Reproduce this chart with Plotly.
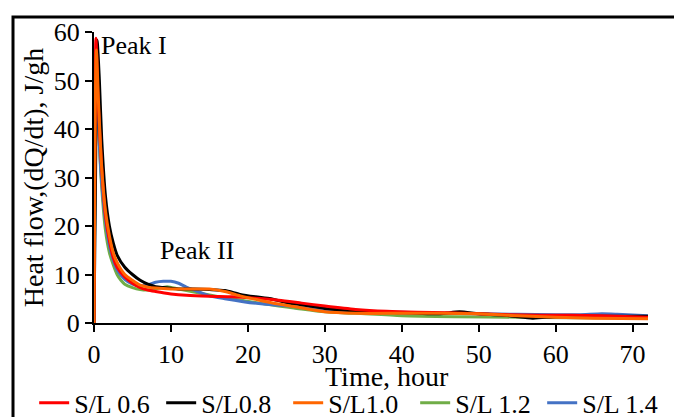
import plotly.graph_objects as go

# ---- data ----
t_red = [0, 0.25, 0.5, 1, 1.5, 2, 2.5, 3, 4, 5, 6, 7, 8, 10, 12, 15, 18, 21, 24, 27, 30, 34, 38, 42, 46, 50, 54, 58, 62, 66, 70, 72]
v_red = [0, 58.7, 47, 32, 22, 17, 13.5, 11.5, 9.5, 8.2, 7.3, 6.8, 6.5, 6.0, 5.7, 5.5, 5.4, 5.1, 4.7, 4.1, 3.5, 2.8, 2.4, 2.2, 2.1, 1.9, 1.7, 1.6, 1.6, 1.5, 1.3, 1.2]

t_blk = [0, 0.2, 0.4, 0.7, 1, 1.5, 2, 2.5, 3, 4, 5, 6, 7, 8, 9, 11, 13, 15, 17, 19, 21, 23, 25, 28, 30, 34, 38, 42, 45, 47.5, 50, 54, 57, 60, 64, 68, 72]
v_blk = [0, 30, 58.3, 50, 38, 26, 20, 16.5, 14, 11.5, 10, 8.8, 8, 7.5, 7.3, 7.0, 7.0, 6.9, 6.7, 5.9, 5.4, 5.0, 4.2, 3.5, 3.0, 2.5, 2.2, 2.0, 1.9, 2.3, 1.9, 1.5, 1.0, 1.3, 1.4, 1.4, 1.4]

t_org = [0, 0.3, 0.6, 1, 1.5, 2, 2.5, 3, 4, 5, 6, 7, 8, 10, 12, 15, 17, 19, 21.5, 24, 26, 30, 34, 40, 45, 50, 55, 60, 65, 72]
v_org = [0, 56.3, 45, 32, 23, 18, 14.5, 12.5, 10, 8.8, 7.8, 7.4, 7.2, 7.0, 7.0, 7.0, 6.5, 5.6, 4.7, 3.9, 3.4, 2.3, 2.0, 2.0, 2.0, 1.9, 1.5, 1.2, 1.0, 0.9]

t_grn = [0, 0.3, 0.6, 1, 1.5, 2, 2.5, 3, 3.5, 4, 5, 6, 7, 8, 9.5, 11, 13, 15, 17, 19.5, 21.5, 24, 26, 30, 34, 40, 47, 55, 62, 72]
v_grn = [0, 52, 40, 28, 19, 14.5, 12, 10, 8.8, 8, 7.3, 6.9, 6.8, 7.0, 7.5, 7.0, 6.4, 5.8, 5.2, 4.6, 4.1, 3.5, 3.1, 2.3, 2.0, 1.5, 1.3, 1.2, 1.1, 1.0]

t_blu = [0, 0.3, 0.6, 1, 1.5, 2, 2.5, 3, 4, 5, 6, 7, 8, 9, 10, 11, 12, 13.5, 15, 17, 19.4, 22, 26, 30, 35, 40, 45, 50, 55, 60, 63, 66, 68, 72]
v_blu = [0, 53, 40, 29, 21, 16, 13, 11, 9, 8, 7.6, 7.9, 8.4, 8.6, 8.6, 8.2, 7.4, 6.5, 5.6, 5.0, 4.4, 3.9, 3.4, 2.8, 2.3, 2.2, 2.0, 1.9, 1.8, 1.7, 1.7, 1.9, 1.8, 1.5]

names = ["S/L 0.6", "S/L0.8", "S/L1.0", "S/L 1.2", "S/L 1.4"]
colors = ["#FF0000", "#000000", "#FF6600", "#70AD47", "#4472C4"]

x_ticks = [0, 10, 20, 30, 40, 50, 60, 70]
y_ticks = [0, 10, 20, 30, 40, 50, 60]

FONT = "Liberation Serif, Times New Roman, serif"

fig = go.Figure()
series = [(t_red, v_red), (t_blk, v_blk), (t_org, v_org), (t_grn, v_grn), (t_blu, v_blu)]
draw_order = [3, 4, 1, 0, 2]  # green, blue, black, red, orange (orange on top)
for i in draw_order:
    t, v = series[i]
    fig.add_trace(go.Scatter(
        x=t, y=v, mode="lines", name=names[i], legendrank=i + 1,
        line=dict(color=colors[i], width=3, shape="spline", smoothing=0.7),
    ))

fig.update_layout(
    width=674, height=417,
    margin=dict(l=94, r=26, t=32, b=94, autoexpand=False),
    paper_bgcolor="white", plot_bgcolor="white",
    font=dict(family=FONT, size=26, color="black"),
    showlegend=True,
    legend=dict(orientation="h", x=-0.108, xanchor="left", y=-0.194, yanchor="top",
                font=dict(size=26), itemwidth=30, tracegroupgap=0,
                entrywidth=82, entrywidthmode="pixels", traceorder="normal",
                bgcolor="rgba(0,0,0,0)"),
    xaxis=dict(range=[0, 72], tickvals=x_ticks, showgrid=False, zeroline=False,
               showline=True, linecolor="black", linewidth=1.5, automargin=False,
               ticks="outside", ticklen=7, tickwidth=1.5, tickcolor="black"),
    yaxis=dict(range=[0, 60], tickvals=y_ticks, showgrid=False, zeroline=False,
               showline=True, linecolor="black", linewidth=2, automargin=False,
               ticks="outside", ticklen=7, tickwidth=1.5, tickcolor="black",
               title=dict(text="Heat flow,(dQ/dt), J/gh", font=dict(size=28), standoff=2)),
    annotations=[
        dict(x=0.7, y=57.3, xref="x", yref="y", text="Peak I", showarrow=False,
             xanchor="left", yanchor="middle", font=dict(size=26)),
        dict(x=8.3, y=15.0, xref="x", yref="y", text="Peak II", showarrow=False,
             xanchor="left", yanchor="middle", font=dict(size=26)),
        dict(x=0.529, y=-0.183, xref="paper", yref="paper", text="Time, hour", showarrow=False,
             xanchor="center", yanchor="middle", font=dict(size=28)),
    ],
    shapes=[
        dict(type="rect", xref="paper", yref="paper", x0=-0.1462, x1=1.2, y0=-0.6, y1=1.0515,
             line=dict(color="black", width=3), fillcolor="rgba(0,0,0,0)", layer="above"),
    ],
)

fig.write_html("out.html")
